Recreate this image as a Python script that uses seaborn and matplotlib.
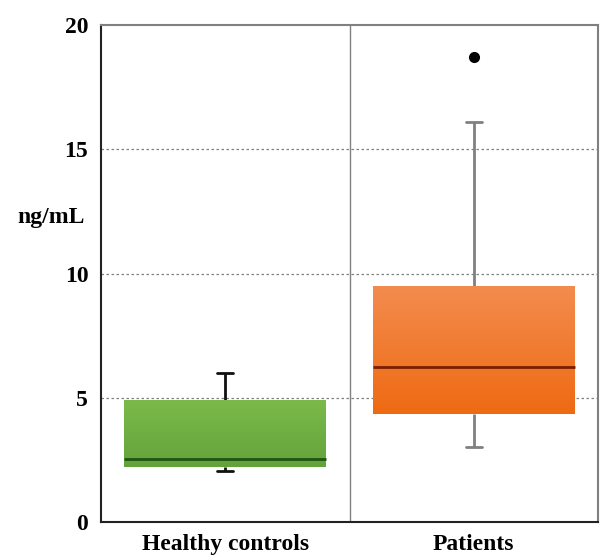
import numpy as np
import pandas as pd
import matplotlib
matplotlib.use("Agg")
import matplotlib.pyplot as plt
import seaborn as sns
from matplotlib.colors import LinearSegmentedColormap

# five-number summaries (min, q1, median, q3, max)
groups = ["Healthy controls", "Patients"]
healthy_vals = [2.05, 2.2, 2.55, 4.9, 6.0]
patient_vals = [3.0, 4.35, 6.25, 9.5, 16.1]
patient_outliers = [18.7]

top_colors = ["#7BBA4A", "#F38C4F"]
bottom_colors = ["#64A33B", "#EE6A12"]
median_colors = ["#1E5410", "#7A1E00"]
whisker_colors = ["#111111", "#808080"]

df = pd.DataFrame({
    "group": [groups[0]] * len(healthy_vals) + [groups[1]] * len(patient_vals),
    "value": healthy_vals + patient_vals,
})

sns.set_style("white")
plt.rcParams["font.family"] = ["Liberation Serif", "DejaVu Serif"]
plt.rcParams["font.weight"] = "bold"
plt.rcParams["text.color"] = "black"
plt.rcParams["xtick.color"] = "black"
plt.rcParams["ytick.color"] = "black"

fig = plt.figure(figsize=(6, 5.6), dpi=100)
ax = fig.add_axes([0.168, 0.068, 0.829, 0.887])

# dotted gridlines behind boxes
for yv in [5, 10, 15]:
    ax.axhline(yv, color="#808080", ls=(0, (2, 2)), lw=0.9, zorder=0)
ax.axvline(0.5, color="#808080", lw=1, zorder=0.5)

for i, g in enumerate(groups):
    sub = df[df["group"] == g]
    sns.boxplot(data=sub, x="group", y="value", order=groups, ax=ax,
                whis=(0, 100), width=0.81, color=top_colors[i],
                linewidth=1.8, fliersize=0,
                boxprops=dict(edgecolor="none", zorder=2),
                whiskerprops=dict(color=whisker_colors[i], lw=2),
                capprops=dict(color=whisker_colors[i], lw=2),
                medianprops=dict(color=median_colors[i], lw=2, zorder=4),
                capwidths=0.065)

# gradient fills clipped to each box
for i, patch in enumerate(ax.patches[:2]):
    ext = patch.get_path().get_extents()
    cmap = LinearSegmentedColormap.from_list("g", [bottom_colors[i], top_colors[i]])
    grad = np.linspace(0, 1, 256).reshape(-1, 1)
    im = ax.imshow(grad, cmap=cmap, aspect="auto", origin="lower",
                   extent=[ext.x0, ext.x1, ext.y0, ext.y1], zorder=2.5)
    im.set_clip_path(patch)
    patch.set_facecolor("none")

sns.stripplot(x=[groups[1]] * len(patient_outliers), y=patient_outliers,
              order=groups, jitter=False, color="black", size=8, ax=ax, zorder=5)

ax.set_xlim(-0.5, 1.5)
ax.set_ylim(0, 20)
ax.set_yticks([0, 5, 10, 15, 20])
ax.set_xlabel("")
ax.set_ylabel("")
ax.tick_params(axis="y", length=0, labelsize=17, pad=9, labelcolor="black")
ax.tick_params(axis="x", length=0, labelsize=17, pad=9, labelcolor="black")
for lab in ax.get_xticklabels() + ax.get_yticklabels():
    lab.set_fontweight("bold")

for side in ["left", "bottom"]:
    ax.spines[side].set_color("#222222")
    ax.spines[side].set_linewidth(1.5)
for side in ["top", "right"]:
    ax.spines[side].set_color("#808080")
    ax.spines[side].set_linewidth(1.5)

fig.text(0.085, 0.612, "ng/mL", ha="center", va="center", fontsize=17,
         fontweight="bold", color="black")

fig.savefig("out.png", dpi=100)
